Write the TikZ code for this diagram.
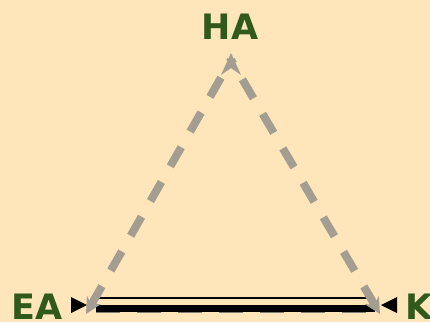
\documentclass[tikz,border=0pt]{standalone}
\usepackage{fontspec}
\newfontfamily\lblfont{DejaVu Sans}
\usetikzlibrary{arrows.meta}
\definecolor{bgc}{HTML}{FFE6BA}
\definecolor{lblc}{HTML}{2F5A1B}
\definecolor{grayc}{HTML}{A39E91}
\tikzset{
  lbl/.style={font=\lblfont\bfseries\fontsize{35}{35}\selectfont, text=lblc, inner sep=0pt},
  graydash/.style={draw=grayc, line width=8pt, dash pattern=on 22pt off 18pt,
     {Stealth[length=16pt,width=16pt,inset=5pt]}-},
  thinblk/.style={draw=black, line width=2.5pt},
  thickblk/.style={draw=black, line width=7pt},
  graydot/.style={draw=grayc!80!black, line width=8pt, dash pattern=on 24pt off 17pt},
  blktip/.style={fill=black},
  graytip/.style={fill=grayc},
}
\begin{document}
\begin{tikzpicture}[x=1pt,y=-1pt]
\fill[bgc] (0,0) rectangle (430,322);
\useasboundingbox (0,0) rectangle (430,322);
\node[lbl] (HA) at (230,27) {HA};
\node[lbl] (EA) at (37,307) {EA};
\node[lbl, anchor=west] (K) at (405,307) {K};
\coordinate (HAc) at (231,60);
\coordinate (EAc) at (86,314);
\coordinate (Kc) at (380,314);
\coordinate (EAt) at (96,298);
\coordinate (Kt) at (375,298);
\coordinate (EAb) at (96,309);
\coordinate (Kb) at (375,309);
\coordinate (EAb2) at (96,308.3);
\coordinate (Kb2) at (375,308.3);
% black connectors
\draw[thinblk] (EAt) -- (Kt);
\draw[graydot] (EAb) -- (Kb);
\draw[thickblk] (EAb2) -- (Kb2);
\fill[blktip] (71,297) -- (87,305) -- (71,313) -- cycle;
\fill[blktip] (397,297) -- (381,305) -- (397,313) -- cycle;
% gray dashed connectors
\draw[graydash] (EAc) -- (HAc);
\draw[graydash] (Kc) -- (HAc);
\fill[graytip] (231,53) -- (241,75) -- (231,68) -- (221,75) -- cycle;
\end{tikzpicture}
\end{document}
